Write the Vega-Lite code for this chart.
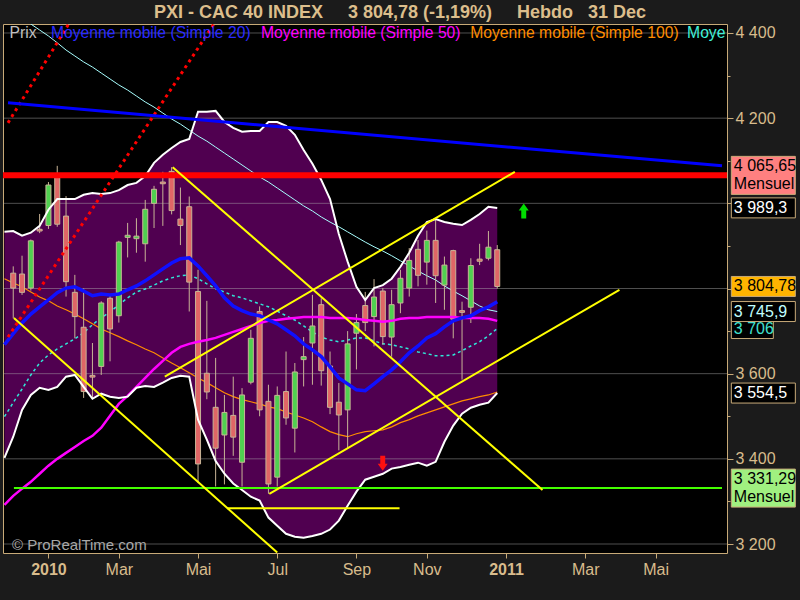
{
  "$schema": "https://vega.github.io/schema/vega-lite/v6.json",
  "autosize": {"type": "none"},
  "width": 724,
  "height": 529,
  "padding": {"left": 3, "top": 24, "right": 73, "bottom": 47},
  "background": "#1b1b1b",
  "config": {"view": {"fill": "#000000", "stroke": "#c8aa78", "strokeWidth": 1}},
  "title": {"text": "PXI - CAC 40 INDEX\u00a0\u00a0\u00a0\u00a0 3 804,78 (-1,19%)\u00a0\u00a0\u00a0\u00a0 Hebdo\u00a0\u00a0 31 Dec", "font": "Liberation Sans", "fontSize": 18, "fontWeight": "bold", "color": "#dcbe8c", "anchor": "middle", "offset": 2, "dx": 35},
  "resolve": {"axis": {"x": "independent", "y": "independent"}},
  "datasets": {
    "candles": [
      {"d":"2009-12-07","o":3836,"h":3852,"l":3730,"c":3801},
      {"d":"2009-12-14","o":3834,"h":3877,"l":3785,"c":3791},
      {"d":"2009-12-21","o":3801,"h":3915,"l":3795,"c":3912},
      {"d":"2009-12-28","o":3939,"h":3975,"l":3930,"c":3935},
      {"d":"2010-01-04","o":3948,"h":4050,"l":3940,"c":4043},
      {"d":"2010-01-11","o":4068,"h":4088,"l":3945,"c":3951},
      {"d":"2010-01-18","o":3970,"h":4017,"l":3781,"c":3816},
      {"d":"2010-01-25","o":3791,"h":3832,"l":3683,"c":3734},
      {"d":"2010-02-01","o":3709,"h":3800,"l":3543,"c":3558},
      {"d":"2010-02-08","o":3596,"h":3672,"l":3543,"c":3592},
      {"d":"2010-02-15","o":3617,"h":3770,"l":3597,"c":3766},
      {"d":"2010-02-22","o":3777,"h":3785,"l":3629,"c":3705},
      {"d":"2010-03-01","o":3736,"h":3912,"l":3720,"c":3909},
      {"d":"2010-03-08","o":3920,"h":3954,"l":3873,"c":3925},
      {"d":"2010-03-15","o":3917,"h":3965,"l":3884,"c":3923},
      {"d":"2010-03-22","o":3905,"h":4008,"l":3863,"c":3986},
      {"d":"2010-03-29","o":4000,"h":4041,"l":3942,"c":4033},
      {"d":"2010-04-05","o":4050,"h":4074,"l":3947,"c":4046},
      {"d":"2010-04-12","o":4075,"h":4085,"l":3974,"c":3983},
      {"d":"2010-04-19","o":3963,"h":4037,"l":3902,"c":3948},
      {"d":"2010-04-26","o":3992,"h":4016,"l":3746,"c":3815},
      {"d":"2010-05-03","o":3793,"h":3844,"l":3343,"c":3388},
      {"d":"2010-05-10","o":3601,"h":3771,"l":3540,"c":3557},
      {"d":"2010-05-17","o":3521,"h":3637,"l":3335,"c":3425},
      {"d":"2010-05-24","o":3456,"h":3550,"l":3340,"c":3509},
      {"d":"2010-05-31","o":3502,"h":3593,"l":3407,"c":3451},
      {"d":"2010-06-07","o":3392,"h":3566,"l":3335,"c":3550},
      {"d":"2010-06-14","o":3580,"h":3703,"l":3575,"c":3683},
      {"d":"2010-06-21","o":3746,"h":3758,"l":3500,"c":3515},
      {"d":"2010-06-28","o":3535,"h":3574,"l":3318,"c":3341},
      {"d":"2010-07-05","o":3357,"h":3570,"l":3335,"c":3549},
      {"d":"2010-07-12","o":3558,"h":3652,"l":3480,"c":3496},
      {"d":"2010-07-19","o":3472,"h":3625,"l":3415,"c":3604},
      {"d":"2010-07-26","o":3633,"h":3686,"l":3570,"c":3640},
      {"d":"2010-08-02","o":3672,"h":3785,"l":3574,"c":3712},
      {"d":"2010-08-09","o":3762,"h":3777,"l":3572,"c":3607},
      {"d":"2010-08-16","o":3618,"h":3652,"l":3505,"c":3521},
      {"d":"2010-08-23","o":3533,"h":3578,"l":3420,"c":3503},
      {"d":"2010-08-30","o":3515,"h":3700,"l":3425,"c":3670},
      {"d":"2010-09-06","o":3695,"h":3740,"l":3610,"c":3720},
      {"d":"2010-09-13","o":3760,"h":3792,"l":3700,"c":3720},
      {"d":"2010-09-20","o":3734,"h":3822,"l":3664,"c":3780},
      {"d":"2010-09-27","o":3794,"h":3801,"l":3668,"c":3687},
      {"d":"2010-10-04","o":3686,"h":3797,"l":3640,"c":3762},
      {"d":"2010-10-11","o":3766,"h":3844,"l":3742,"c":3824},
      {"d":"2010-10-18","o":3801,"h":3895,"l":3781,"c":3866},
      {"d":"2010-10-25","o":3892,"h":3914,"l":3805,"c":3831},
      {"d":"2010-11-01","o":3862,"h":3936,"l":3809,"c":3913},
      {"d":"2010-11-08","o":3913,"h":3961,"l":3766,"c":3830},
      {"d":"2010-11-15","o":3808,"h":3875,"l":3750,"c":3855},
      {"d":"2010-11-22","o":3889,"h":3891,"l":3683,"c":3728},
      {"d":"2010-11-29","o":3748,"h":3769,"l":3586,"c":3744},
      {"d":"2010-12-06","o":3756,"h":3871,"l":3719,"c":3854},
      {"d":"2010-12-13","o":3869,"h":3905,"l":3855,"c":3864},
      {"d":"2010-12-20","o":3871,"h":3935,"l":3866,"c":3897},
      {"d":"2010-12-27","o":3891,"h":3902,"l":3800,"c":3804.78}
    ],
    "ind": [
      {"d":"2009-11-30","up":3933,"lo":3402,"m20":3668,"m50":3292,"m100":3823,"cy":3499,"lc":4470},
      {"d":"2009-12-07","up":3935,"lo":3452,"m20":3694,"m50":3313,"m100":3813,"cy":3532,"lc":4454},
      {"d":"2009-12-14","up":3924,"lo":3515,"m20":3719,"m50":3330,"m100":3804,"cy":3564,"lc":4438},
      {"d":"2009-12-21","up":3931,"lo":3550,"m20":3740,"m50":3346,"m100":3792,"cy":3597,"lc":4421},
      {"d":"2009-12-28","up":3947,"lo":3567,"m20":3757,"m50":3365,"m100":3780,"cy":3625,"lc":4407},
      {"d":"2010-01-04","up":3985,"lo":3562,"m20":3773,"m50":3384,"m100":3771,"cy":3644,"lc":4393},
      {"d":"2010-01-11","up":4010,"lo":3569,"m20":3790,"m50":3400,"m100":3759,"cy":3658,"lc":4377},
      {"d":"2010-01-18","up":4010,"lo":3593,"m20":3801,"m50":3414,"m100":3750,"cy":3670,"lc":4360},
      {"d":"2010-01-25","up":4010,"lo":3597,"m20":3804,"m50":3428,"m100":3740,"cy":3682,"lc":4346},
      {"d":"2010-02-01","up":4020,"lo":3569,"m20":3794,"m50":3442,"m100":3729,"cy":3696,"lc":4332},
      {"d":"2010-02-08","up":4024,"lo":3541,"m20":3783,"m50":3454,"m100":3717,"cy":3715,"lc":4320},
      {"d":"2010-02-15","up":4022,"lo":3553,"m20":3787,"m50":3473,"m100":3705,"cy":3731,"lc":4306},
      {"d":"2010-02-22","up":4024,"lo":3546,"m20":3785,"m50":3501,"m100":3696,"cy":3745,"lc":4292},
      {"d":"2010-03-01","up":4031,"lo":3543,"m20":3787,"m50":3529,"m100":3687,"cy":3762,"lc":4278},
      {"d":"2010-03-08","up":4043,"lo":3546,"m20":3797,"m50":3548,"m100":3677,"cy":3778,"lc":4266},
      {"d":"2010-03-15","up":4048,"lo":3567,"m20":3806,"m50":3569,"m100":3668,"cy":3792,"lc":4252},
      {"d":"2010-03-22","up":4064,"lo":3571,"m20":3818,"m50":3590,"m100":3658,"cy":3799,"lc":4238},
      {"d":"2010-03-29","up":4095,"lo":3569,"m20":3832,"m50":3611,"m100":3649,"cy":3808,"lc":4226},
      {"d":"2010-04-05","up":4114,"lo":3579,"m20":3846,"m50":3630,"m100":3637,"cy":3818,"lc":4212},
      {"d":"2010-04-12","up":4130,"lo":3590,"m20":3860,"m50":3649,"m100":3625,"cy":3825,"lc":4198},
      {"d":"2010-04-19","up":4144,"lo":3595,"m20":3870,"m50":3663,"m100":3614,"cy":3830,"lc":4186},
      {"d":"2010-04-26","up":4151,"lo":3593,"m20":3872,"m50":3670,"m100":3602,"cy":3832,"lc":4172},
      {"d":"2010-05-03","up":4215,"lo":3492,"m20":3853,"m50":3675,"m100":3590,"cy":3823,"lc":4158},
      {"d":"2010-05-10","up":4215,"lo":3445,"m20":3830,"m50":3679,"m100":3579,"cy":3811,"lc":4146},
      {"d":"2010-05-17","up":4217,"lo":3395,"m20":3806,"m50":3684,"m100":3567,"cy":3799,"lc":4132},
      {"d":"2010-05-24","up":4191,"lo":3365,"m20":3778,"m50":3691,"m100":3555,"cy":3792,"lc":4118},
      {"d":"2010-05-31","up":4177,"lo":3342,"m20":3759,"m50":3698,"m100":3546,"cy":3783,"lc":4104},
      {"d":"2010-06-07","up":4168,"lo":3327,"m20":3748,"m50":3705,"m100":3539,"cy":3778,"lc":4090},
      {"d":"2010-06-14","up":4170,"lo":3311,"m20":3740,"m50":3712,"m100":3534,"cy":3771,"lc":4076},
      {"d":"2010-06-21","up":4170,"lo":3302,"m20":3736,"m50":3719,"m100":3529,"cy":3764,"lc":4062},
      {"d":"2010-06-28","up":4191,"lo":3262,"m20":3726,"m50":3724,"m100":3522,"cy":3757,"lc":4050},
      {"d":"2010-07-05","up":4191,"lo":3243,"m20":3717,"m50":3726,"m100":3518,"cy":3747,"lc":4036},
      {"d":"2010-07-12","up":4182,"lo":3224,"m20":3703,"m50":3729,"m100":3510,"cy":3736,"lc":4022},
      {"d":"2010-07-19","up":4161,"lo":3217,"m20":3689,"m50":3731,"m100":3503,"cy":3726,"lc":4008},
      {"d":"2010-07-26","up":4125,"lo":3215,"m20":3670,"m50":3733,"m100":3496,"cy":3712,"lc":3994},
      {"d":"2010-08-02","up":4093,"lo":3219,"m20":3656,"m50":3733,"m100":3487,"cy":3698,"lc":3982},
      {"d":"2010-08-09","up":4055,"lo":3224,"m20":3640,"m50":3733,"m100":3475,"cy":3686,"lc":3968},
      {"d":"2010-08-16","up":4010,"lo":3234,"m20":3616,"m50":3731,"m100":3464,"cy":3679,"lc":3956},
      {"d":"2010-08-23","up":3928,"lo":3255,"m20":3590,"m50":3731,"m100":3457,"cy":3675,"lc":3945},
      {"d":"2010-08-30","up":3863,"lo":3290,"m20":3576,"m50":3731,"m100":3452,"cy":3679,"lc":3933},
      {"d":"2010-09-06","up":3804,"lo":3323,"m20":3562,"m50":3729,"m100":3459,"cy":3684,"lc":3921},
      {"d":"2010-09-13","up":3773,"lo":3351,"m20":3560,"m50":3726,"m100":3464,"cy":3684,"lc":3909},
      {"d":"2010-09-20","up":3801,"lo":3358,"m20":3576,"m50":3724,"m100":3466,"cy":3677,"lc":3898},
      {"d":"2010-09-27","up":3808,"lo":3365,"m20":3593,"m50":3722,"m100":3468,"cy":3670,"lc":3888},
      {"d":"2010-10-04","up":3823,"lo":3377,"m20":3609,"m50":3724,"m100":3475,"cy":3668,"lc":3877},
      {"d":"2010-10-11","up":3851,"lo":3381,"m20":3628,"m50":3729,"m100":3485,"cy":3663,"lc":3865},
      {"d":"2010-10-18","up":3884,"lo":3386,"m20":3649,"m50":3731,"m100":3492,"cy":3658,"lc":3853},
      {"d":"2010-10-25","up":3924,"lo":3391,"m20":3665,"m50":3731,"m100":3501,"cy":3651,"lc":3841},
      {"d":"2010-11-01","up":3956,"lo":3384,"m20":3684,"m50":3733,"m100":3508,"cy":3647,"lc":3830},
      {"d":"2010-11-08","up":3963,"lo":3393,"m20":3694,"m50":3733,"m100":3515,"cy":3642,"lc":3820},
      {"d":"2010-11-15","up":3956,"lo":3440,"m20":3710,"m50":3733,"m100":3522,"cy":3642,"lc":3806},
      {"d":"2010-11-22","up":3952,"lo":3478,"m20":3724,"m50":3733,"m100":3529,"cy":3644,"lc":3794},
      {"d":"2010-11-29","up":3949,"lo":3506,"m20":3731,"m50":3731,"m100":3536,"cy":3654,"lc":3783},
      {"d":"2010-12-06","up":3961,"lo":3520,"m20":3736,"m50":3731,"m100":3541,"cy":3665,"lc":3771},
      {"d":"2010-12-13","up":3975,"lo":3527,"m20":3748,"m50":3731,"m100":3546,"cy":3675,"lc":3759},
      {"d":"2010-12-20","up":3992,"lo":3532,"m20":3757,"m50":3729,"m100":3550,"cy":3689,"lc":3750},
      {"d":"2010-12-27","up":3989.3,"lo":3554.5,"m20":3769,"m50":3724,"m100":3557,"cy":3706,"lc":3745.9}
    ],
    "trend": [
      {"id":"blue","d":"2009-12-02T20:00:00Z","v":4236},
      {"id":"blue","d":"2011-06-23T19:00:00Z","v":4088},
      {"id":"green","d":"2009-12-07T13:00:00Z","v":3331.29},
      {"id":"green","d":"2011-06-23T19:00:00Z","v":3331.29},
      {"id":"ya","d":"2009-12-07T13:00:00Z","v":3731},
      {"id":"ya","d":"2010-07-05T00:00:00Z","v":3180},
      {"id":"yb","d":"2010-04-12T20:00:00Z","v":4085},
      {"id":"yb","d":"2011-02-01T00:00:00Z","v":3327},
      {"id":"yc","d":"2010-04-06T14:00:00Z","v":3593},
      {"id":"yc","d":"2011-01-10T00:00:00Z","v":4074},
      {"id":"yd","d":"2010-06-28T17:00:00Z","v":3318},
      {"id":"yd","d":"2011-04-03T05:00:00Z","v":3797},
      {"id":"ye","d":"2010-05-26T00:00:00Z","v":3284},
      {"id":"ye","d":"2010-10-10T07:00:00Z","v":3284},
      {"id":"r1","d":"2009-12-02T20:00:00Z","v":3686},
      {"id":"r1","d":"2010-05-15T14:00:00Z","v":4421},
      {"id":"r2","d":"2009-12-02T20:00:00Z","v":4189},
      {"id":"r2","d":"2010-01-20T02:00:00Z","v":4421}
    ],
    "grid": [{"g":3200},{"g":3400},{"g":3600},{"g":3800},{"g":4000},{"g":4200},{"g":4400}],
    "tags": [
      {"v":4065.65,"t":"4 065,65\nMensuel","k":"res"},
      {"v":3989.3,"t":"3 989,3","k":"bb"},
      {"v":3706,"t":"3 706","k":"ma"},
      {"v":3745.9,"t":"3 745,9","k":"lc"},
      {"v":3804.78,"t":"3 804,78","k":"last"},
      {"v":3554.5,"t":"3 554,5","k":"bb"},
      {"v":3331.29,"t":"3 331,29\nMensuel","k":"sup"}
    ]
  },
  "layer": [
    {
      "data": {"name": "ind"},
      "mark": {"type": "area", "clip": true, "color": "#500050"},
      "encoding": {
        "x": {"field": "d", "type": "temporal",
          "scale": {"type": "utc", "domain": [{"year":2009,"month":12,"date":2,"hours":20,"utc":true},{"year":2011,"month":6,"date":23,"hours":19,"utc":true}]},
          "axis": {
            "values": [{"year":2010,"month":1,"date":4,"utc":true},{"year":2010,"month":3,"date":1,"utc":true},{"year":2010,"month":5,"date":3,"utc":true},{"year":2010,"month":7,"date":5,"utc":true},{"year":2010,"month":9,"date":6,"utc":true},{"year":2010,"month":11,"date":1,"utc":true},{"year":2011,"month":1,"date":3,"utc":true},{"year":2011,"month":3,"date":7,"utc":true},{"year":2011,"month":5,"date":2,"utc":true}],
            "labelExpr": "utcmonth(datum.value) == 0 ? utcFormat(datum.value, '%Y') : ['Jan','Fév','Mar','Avr','Mai','Jun','Jul','Aoû','Sep','Oct','Nov','Déc'][utcmonth(datum.value)]",
            "labelFontWeight": {"condition": {"test": "utcmonth(datum.value) == 0", "value": "bold"}, "value": "normal"},
            "title": null, "grid": false, "domain": false, "tickSize": 5, "tickColor": "#c8aa78",
            "labelColor": "#d8bc8c", "labelFont": "Liberation Sans", "labelFontSize": 16, "labelPadding": 3, "labelOverlap": false, "labelBound": false
          }
        },
        "y": {"field": "up", "type": "quantitative",
          "scale": {"domain": [3178.9, 4421.1], "nice": false, "zero": false},
          "axis": {
            "orient": "right",
            "values": [3200,3300,3400,3500,3600,3700,3800,3900,4000,4100,4200,4300,4400],
            "labelExpr": "(datum.value % 200 == 0 && datum.value != 3800 && datum.value != 4000) ? replace(format(datum.value, ',d'), ',', ' ') : ''",
            "tickSize": {"condition": {"test": "datum.value % 200 == 0", "value": 6}, "value": 3},
            "title": null, "grid": false, "domain": false, "tickColor": "#c8aa78",
            "labelColor": "#d8bc8c", "labelFont": "Liberation Sans", "labelFontSize": 16, "labelPadding": 2, "labelOverlap": false, "labelBound": false
          }
        },
        "y2": {"field": "lo"}
      }
    },
    {
      "data": {"name": "grid"},
      "mark": {"type": "rule", "color": "#b0b0b0", "opacity": 0.45, "strokeWidth": 1},
      "encoding": {"y": {"field": "g", "type": "quantitative", "axis": null}}
    },
    {
      "data": {"name": "ind"},
      "mark": {"type": "line", "clip": true, "color": "#a8ffff", "strokeWidth": 1},
      "encoding": {"x": {"field": "d", "type": "temporal", "axis": null}, "y": {"field": "lc", "type": "quantitative", "axis": null}}
    },
    {
      "data": {"name": "ind"},
      "mark": {"type": "line", "clip": true, "color": "#ff8c00", "strokeWidth": 1.2},
      "encoding": {"x": {"field": "d", "type": "temporal", "axis": null}, "y": {"field": "m100", "type": "quantitative", "axis": null}}
    },
    {
      "data": {"name": "ind"},
      "mark": {"type": "line", "clip": true, "color": "#30e8d8", "strokeWidth": 1.5, "strokeDash": [3, 3]},
      "encoding": {"x": {"field": "d", "type": "temporal", "axis": null}, "y": {"field": "cy", "type": "quantitative", "axis": null}}
    },
    {
      "data": {"name": "candles"},
      "mark": {"type": "rule", "color": "#c8b496", "strokeWidth": 1},
      "encoding": {"x": {"field": "d", "type": "temporal", "axis": null}, "y": {"field": "l", "type": "quantitative", "axis": null}, "y2": {"field": "h"}}
    },
    {
      "data": {"name": "candles"},
      "mark": {"type": "bar", "width": 5, "stroke": "#c8b496", "strokeWidth": 1},
      "encoding": {
        "x": {"field": "d", "type": "temporal", "axis": null},
        "y": {"field": "o", "type": "quantitative", "axis": null},
        "y2": {"field": "c"},
        "fill": {"condition": {"test": "datum.c >= datum.o", "value": "#50d050"}, "value": "#e06666"}
      }
    },
    {
      "data": {"name": "ind"},
      "mark": {"type": "line", "clip": true, "color": "#ff00ff", "strokeWidth": 2.5},
      "encoding": {"x": {"field": "d", "type": "temporal", "axis": null}, "y": {"field": "m50", "type": "quantitative", "axis": null}}
    },
    {
      "data": {"name": "ind"},
      "mark": {"type": "line", "clip": true, "color": "#1010ff", "strokeWidth": 3.5},
      "encoding": {"x": {"field": "d", "type": "temporal", "axis": null}, "y": {"field": "m20", "type": "quantitative", "axis": null}}
    },
    {
      "data": {"name": "ind"},
      "mark": {"type": "line", "clip": true, "color": "#ffffff", "strokeWidth": 2},
      "encoding": {"x": {"field": "d", "type": "temporal", "axis": null}, "y": {"field": "up", "type": "quantitative", "axis": null}}
    },
    {
      "data": {"name": "ind"},
      "mark": {"type": "line", "clip": true, "color": "#ffffff", "strokeWidth": 2},
      "encoding": {"x": {"field": "d", "type": "temporal", "axis": null}, "y": {"field": "lo", "type": "quantitative", "axis": null}}
    },
    {
      "data": {"name": "trend"},
      "transform": [{"filter": "datum.id == 'r1' || datum.id == 'r2'"}],
      "mark": {"type": "line", "clip": true, "color": "#ff0000", "strokeWidth": 3, "strokeDash": [3, 4]},
      "encoding": {"x": {"field": "d", "type": "temporal", "axis": null}, "y": {"field": "v", "type": "quantitative", "axis": null}, "detail": {"field": "id"}}
    },
    {
      "data": {"name": "trend"},
      "transform": [{"filter": "datum.id == 'blue'"}],
      "mark": {"type": "line", "clip": true, "color": "#0000ff", "strokeWidth": 3},
      "encoding": {"x": {"field": "d", "type": "temporal", "axis": null}, "y": {"field": "v", "type": "quantitative", "axis": null}}
    },
    {
      "data": {"values": [{}]},
      "mark": {"type": "rule", "color": "#ff0000", "strokeWidth": 6},
      "encoding": {"y": {"datum": 4065.65, "type": "quantitative", "axis": null}}
    },
    {
      "data": {"name": "trend"},
      "transform": [{"filter": "datum.id == 'green'"}],
      "mark": {"type": "line", "clip": true, "color": "#44ff00", "strokeWidth": 2},
      "encoding": {"x": {"field": "d", "type": "temporal", "axis": null}, "y": {"field": "v", "type": "quantitative", "axis": null}}
    },
    {
      "data": {"name": "trend"},
      "transform": [{"filter": "indexof(['ya','yb','yc','yd','ye'], datum.id) >= 0"}],
      "mark": {"type": "line", "clip": true, "color": "#ffff00", "strokeWidth": 2},
      "encoding": {"x": {"field": "d", "type": "temporal", "axis": null}, "y": {"field": "v", "type": "quantitative", "axis": null}, "detail": {"field": "id"}}
    },
    {
      "data": {"values": [{}]},
      "mark": {"type": "point", "filled": true, "opacity": 1, "color": "#ff1010", "size": 225, "shape": "M-0.33,-1L0.33,-1L0.33,0.07L0.67,0.07L0,1L-0.67,0.07L-0.33,0.07Z"},
      "encoding": {"x": {"datum": {"year":2010,"month":9,"date":26,"hours":22,"utc":true}, "type": "temporal", "axis": null}, "y": {"datum": 3389.6, "type": "quantitative", "axis": null}}
    },
    {
      "data": {"values": [{}]},
      "mark": {"type": "point", "filled": true, "opacity": 1, "color": "#00dd00", "size": 225, "shape": "M-0.33,1L0.33,1L0.33,-0.07L0.67,-0.07L0,-1L-0.67,-0.07L-0.33,-0.07Z"},
      "encoding": {"x": {"datum": {"year":2011,"month":1,"date":17,"hours":2,"utc":true}, "type": "temporal", "axis": null}, "y": {"datum": 3982.2, "type": "quantitative", "axis": null}}
    },
    {
      "data": {"values": [{}]},
      "mark": {"type": "text", "text": "Prix", "align": "left", "baseline": "middle", "font": "Liberation Sans", "fontSize": 15.7, "color": "#c0c0c0"},
      "encoding": {"x": {"datum": {"year":2009,"month":12,"date":4,"hours":0,"utc":true}, "type": "temporal", "axis": null}, "y": {"datum": 4400, "type": "quantitative", "axis": null}}
    },
    {
      "data": {"values": [{}]},
      "mark": {"type": "text", "text": "Moyenne mobile (Simple 20)", "align": "left", "baseline": "middle", "font": "Liberation Sans", "fontSize": 15.7, "color": "#2a2aff"},
      "encoding": {"x": {"datum": {"year":2010,"month":1,"date":6,"hours":0,"utc":true}, "type": "temporal", "axis": null}, "y": {"datum": 4400, "type": "quantitative", "axis": null}}
    },
    {
      "data": {"values": [{}]},
      "mark": {"type": "text", "text": "Moyenne mobile (Simple 50)", "align": "left", "baseline": "middle", "font": "Liberation Sans", "fontSize": 15.7, "color": "#ff00ff"},
      "encoding": {"x": {"datum": {"year":2010,"month":6,"date":22,"hours":0,"utc":true}, "type": "temporal", "axis": null}, "y": {"datum": 4400, "type": "quantitative", "axis": null}}
    },
    {
      "data": {"values": [{}]},
      "mark": {"type": "text", "text": "Moyenne mobile (Simple 100)", "align": "left", "baseline": "middle", "font": "Liberation Sans", "fontSize": 15.7, "color": "#ff8c00"},
      "encoding": {"x": {"datum": {"year":2010,"month":12,"date":5,"hours":12,"utc":true}, "type": "temporal", "axis": null}, "y": {"datum": 4400, "type": "quantitative", "axis": null}}
    },
    {
      "data": {"values": [{}]},
      "mark": {"type": "text", "clip": true, "text": "Moye", "align": "left", "baseline": "middle", "font": "Liberation Sans", "fontSize": 15.7, "color": "#40f0d8"},
      "encoding": {"x": {"datum": {"year":2011,"month":5,"date":27,"hours":0,"utc":true}, "type": "temporal", "axis": null}, "y": {"datum": 4400, "type": "quantitative", "axis": null}}
    },
    {
      "data": {"values": [{}]},
      "mark": {"type": "text", "text": "© ProRealTime.com", "align": "left", "baseline": "middle", "font": "Liberation Sans", "fontSize": 15, "color": "#a8a8a8"},
      "encoding": {"x": {"datum": {"year":2009,"month":12,"date":6,"hours":0,"utc":true}, "type": "temporal", "axis": null}, "y": {"datum": 3198, "type": "quantitative", "axis": null}}
    },
    {
      "data": {"name": "tags"},
      "mark": {"type": "point", "filled": true, "opacity": 1, "size": 4096, "stroke": "#c8aa78", "strokeWidth": 1, "strokeOpacity": 1},
      "encoding": {
        "x": {"datum": {"year":2011,"month":7,"date":26,"hours":16,"utc":true}, "type": "temporal", "axis": null},
        "y": {"field": "v", "type": "quantitative", "axis": null},
        "fill": {"condition": [
          {"test": "datum.k == 'res'", "value": "#ff8080"},
          {"test": "datum.k == 'sup'", "value": "#a0f080"},
          {"test": "datum.k == 'last'", "value": "#ffb400"}
        ], "value": "#000000"},
        "shape": {"condition": [
          {"test": "datum.k == 'res' || datum.k == 'sup'", "value": "M-1,-0.594L1,-0.594L1,0.594L-1,0.594Z"},
          {"test": "datum.k == 'ma'", "value": "M-1,-0.3125L0.3125,-0.3125L0.3125,0.3125L-1,0.3125Z"}
        ], "value": "M-1,-0.3125L1,-0.3125L1,0.3125L-1,0.3125Z"}
      }
    },
    {
      "data": {"name": "tags"},
      "transform": [{"filter": "datum.k != 'res' && datum.k != 'sup'"}],
      "mark": {"type": "text", "align": "left", "baseline": "middle", "font": "Liberation Sans", "fontSize": 16},
      "encoding": {
        "x": {"datum": {"year":2011,"month":7,"date":3,"hours":5,"utc":true}, "type": "temporal", "axis": null},
        "y": {"field": "v", "type": "quantitative", "axis": null},
        "text": {"field": "t"},
        "color": {"condition": [
          {"test": "datum.k == 'last'", "value": "#000000"},
          {"test": "datum.k == 'lc'", "value": "#c0ffff"},
          {"test": "datum.k == 'ma'", "value": "#40e0d0"}
        ], "value": "#ffffff"}
      }
    },
    {
      "data": {"name": "tags"},
      "transform": [{"filter": "datum.k == 'res' || datum.k == 'sup'"}],
      "mark": {"type": "text", "align": "left", "baseline": "middle", "font": "Liberation Sans", "fontSize": 16, "lineBreak": "\n", "lineHeight": 18, "dy": -9, "color": "#000000"},
      "encoding": {
        "x": {"datum": {"year":2011,"month":7,"date":3,"hours":5,"utc":true}, "type": "temporal", "axis": null},
        "y": {"field": "v", "type": "quantitative", "axis": null},
        "text": {"field": "t"}
      }
    }
  ]
}
